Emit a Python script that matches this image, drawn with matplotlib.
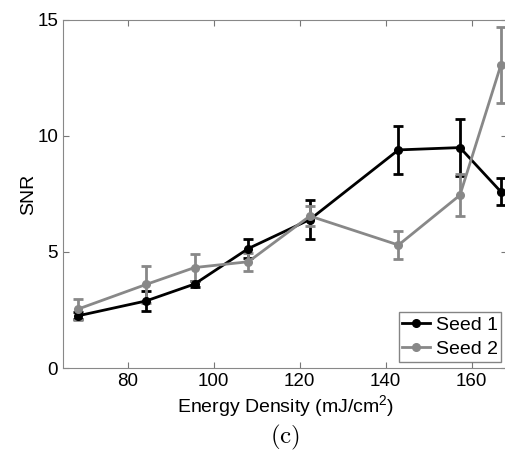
import numpy as np
import matplotlib
matplotlib.use('Agg')
import matplotlib.pyplot as plt

plt.rcParams['font.family'] = ['Liberation Sans', 'DejaVu Sans']
plt.rcParams['mathtext.fontset'] = 'cm'

# energy density (mJ/cm^2)
energy = [68.5, 84.3, 95.6, 108.1, 122.4, 143.0, 157.3, 166.8]

# SNR of each seed and its error bar half-width
seed1 = [2.25, 2.89, 3.62, 5.15, 6.40, 9.40, 9.50, 7.60]
seed1_err = [0.15, 0.45, 0.12, 0.40, 0.85, 1.02, 1.22, 0.58]
seed2 = [2.54, 3.60, 4.33, 4.58, 6.55, 5.30, 7.45, 13.05]
seed2_err = [0.45, 0.80, 0.60, 0.38, 0.45, 0.60, 0.90, 1.65]

fig = plt.figure(figsize=(5.06, 4.61), dpi=100)
ax = fig.add_axes([0.1245, 0.2017, 0.878, 0.755])

eb1 = ax.errorbar(energy, seed1, yerr=seed1_err, color='black', lw=2, marker='o',
                  ms=5.5, capsize=3.5, capthick=2, elinewidth=2)
eb2 = ax.errorbar(energy, seed2, yerr=seed2_err, color='#888888', lw=2, marker='o',
                  ms=5.5, capsize=3.5, capthick=2, elinewidth=2)

ax.set_xlim(65, 168.3)
ax.set_ylim(0, 15)
ax.set_xticks([80, 100, 120, 140, 160])
ax.set_yticks([0, 5, 10, 15])
ax.tick_params(direction='in', top=True, right=True, labelsize=13.5,
               color='#777777', length=4)
for s in ax.spines.values():
    s.set_color('#888888')

ax.set_xlabel(r'Energy Density (mJ/cm$\mathregular{^2}$)', fontsize=14, labelpad=2)
ax.set_ylabel('SNR', fontsize=14, labelpad=0)

leg = ax.legend([eb1[0], eb2[0]], ['Seed 1', 'Seed 2'], loc='lower right',
                fontsize=14, fancybox=False, handlelength=1.4, handletextpad=0.3,
                borderpad=0.2, labelspacing=0.35, borderaxespad=0.3)
leg.get_frame().set_edgecolor('#666666')
leg.get_frame().set_linewidth(1)

fig.text(0.563, 0.052, r'$\mathrm{(c)}$', ha='center', va='center', fontsize=18)

fig.savefig('out.png', dpi=100)
